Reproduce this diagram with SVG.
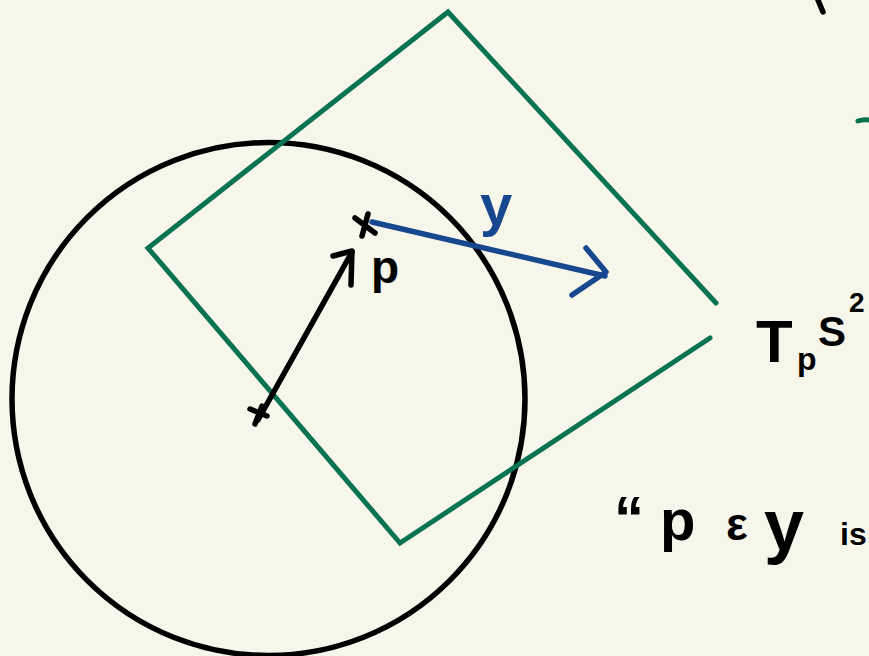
<svg xmlns="http://www.w3.org/2000/svg" width="869" height="656" viewBox="0 0 869 656">
<style>
.bk{fill:none;stroke:#000;stroke-width:5.5;stroke-linecap:round;stroke-linejoin:round}
.gr{fill:none;stroke:#0a7352;stroke-width:5;stroke-linecap:round;stroke-linejoin:miter}
.bl{fill:none;stroke:#16478f;stroke-width:5.5;stroke-linecap:round;stroke-linejoin:round}
.t{font-family:"Liberation Sans",Arial,sans-serif;font-weight:bold;fill:#000}
.tb{font-family:"Liberation Sans",Arial,sans-serif;font-weight:bold;fill:#16478f}
</style>
<rect width="869" height="656" fill="#f7f6ea"/>
<g id="sphere">
<circle class="bk" cx="268.5" cy="399" r="256.5"/>
</g>
<g id="tangent-plane">
<path class="gr" d="M716,303 L448,12 L148,248 L400,543 L710,338"/>
</g>
<g id="connectors">
<g id="position-arrow">
<path class="bk" d="M258,420 L352,252"/>
<path class="bk" d="M333,256 L352,251 L351,285"/>
<path class="bk" d="M250,409 L267,416 M262,406 L255,424"/>
</g>
<g id="tangent-vector">
<path class="bl" d="M372,222 L605,276"/>
<path class="bl" d="M586,248 L606,272 L572,295"/>
</g>
</g>
<g id="point-p">
<path class="bk" d="M355,218 L375,233 M368,214 L362,236"/>
<text class="t" x="371" y="283" font-size="46">p</text>
</g>
<g id="label-v">
<text class="tb" x="480" y="225" font-size="58">y</text>
</g>
<g id="label-TpS2">
<text class="t" x="756" y="362" font-size="60">T</text>
<text class="t" x="797" y="370" font-size="32">p</text>
<text class="t" x="818" y="346" font-size="42">S</text>
<text class="t" x="849" y="312" font-size="28">2</text>
</g>
<g id="note">
<text class="t" x="614" y="538" font-size="60">“</text>
<text class="t" x="660" y="540" font-size="58">p</text>
<text class="t" x="726" y="540" font-size="46">ε</text>
<text class="t" x="764" y="550" font-size="72">y</text>
<text class="t" x="840" y="545" font-size="32">is</text>
</g>
<g id="fragments">
<path class="bk" d="M818,0 L823,12"/>
<path class="gr" d="M858,121 Q863,119 869,120"/>
</g>
</svg>
